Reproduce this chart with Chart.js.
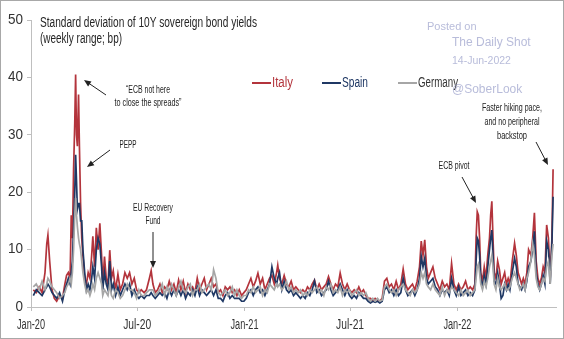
<!DOCTYPE html>
<html>
<head>
<meta charset="utf-8">
<script src="https://cdn.jsdelivr.net/npm/chart.js@4/dist/chart.umd.min.js"></script>
<style>
  html, body { margin: 0; padding: 0; background: #fff; }
</style>
</head>
<body>
<canvas id="canvas" width="564" height="339"></canvas>
<script>
// days counted from 1 Jan 2020
var days = [
  4, 9, 14, 19, 24, 27, 29, 32, 36, 40,
  44, 49, 54, 58, 61, 64, 67, 69, 71, 73,
  75, 76.5, 78, 79.5, 81.5, 83, 85, 87, 89, 92,
  95, 98, 101, 104, 106, 109, 112, 115, 118, 121,
  123, 126, 129, 132, 135, 138, 141, 145, 149, 153,
  157, 161, 165, 169, 173, 177, 181, 185, 189, 194,
  198, 203, 206, 209, 213, 217, 221, 225, 229, 233,
  237, 241, 245, 249, 253, 257, 261, 265, 269, 273,
  277, 281, 285, 289, 293, 297, 301, 305, 309, 313,
  317, 321, 325, 329, 333, 337, 341, 345, 349, 353,
  357, 361, 365, 369, 373, 377, 381, 385, 389, 393,
  397, 401, 405, 409, 413, 417, 421, 423, 426, 430,
  434, 438, 442, 446, 450, 454, 458, 462, 466, 470,
  474, 478, 482, 486, 490, 494, 498, 502, 506, 510,
  514, 518, 522, 526, 530, 534, 538, 542, 546, 550,
  554, 558, 562, 566, 570, 574, 578, 582, 586, 590,
  594, 598, 602, 606, 610, 614, 618, 622, 626, 630,
  634, 638, 642, 646, 650, 654, 658, 662, 666, 669,
  672, 675, 678, 681, 685, 689, 693, 697, 701, 705,
  709, 713, 717, 721, 725, 729, 733, 737, 741, 745,
  749, 753, 757, 761, 763, 765, 767, 769, 771, 774,
  777, 780, 783, 786, 788, 790, 792, 794, 797, 800,
  803, 806, 809, 812, 815, 818, 821, 825, 829, 832,
  835, 838, 841, 844, 847, 850, 853, 857, 860, 863,
  866, 869, 872, 875, 878, 881, 884, 887, 890, 893, 895
];

var italy = [
  3, 2.5, 3.5, 2.5, 6, 11, 12.5, 8, 3, 1.5,
  1, 2, 1.5, 4, 5.5, 6, 5, 16, 12, 24,
  32, 40.5, 30, 28, 37, 28, 18, 12, 9, 5,
  4, 6, 5, 9, 12.3, 7, 13.8, 10, 14.6, 9,
  4, 8.8, 5, 4, 9.9, 5, 6.3, 3, 5.7, 3,
  4, 6, 5, 6, 4, 5, 3, 2.5, 3, 2.5,
  3, 5, 6.3, 4, 2.5, 3, 4, 2.5, 3.5, 3,
  4.5, 3, 4, 2.5, 4.7, 3, 4.5, 2.5, 4, 3,
  3.5, 2.5, 5, 3, 4, 5, 3, 4, 5, 3.5,
  4, 2.5, 3, 2, 3.5, 3, 3.5, 2.5, 3, 2,
  3, 2, 2.5, 3, 4, 5, 3.5, 4.5, 5.9, 4,
  5, 3, 4, 5, 5.5, 4, 6, 7.3, 5, 4,
  5.5, 4, 3.5, 4.5, 3, 3.5, 3, 2.5, 3, 2.5,
  3.5, 3, 4, 4.7, 3, 4, 3, 3.5, 4, 5.3,
  4, 3, 4, 3.5, 5.9, 4, 3, 4, 3, 2.5,
  3, 2.5, 3.5, 2.5, 3, 2, 1.5, 1.5, 1, 1.5,
  1.2, 1, 1.5, 4.5, 5, 3.5, 4, 3, 4.5, 3,
  4, 6.6, 4, 3, 3.5, 4, 3, 4.5, 7, 11.5,
  9, 11.7, 7, 5, 6, 7, 5, 4, 3, 4.5,
  3.5, 4, 3, 7.6, 4, 3, 4, 3, 3.5, 4.5,
  3, 3.5, 3, 4, 12, 16.6, 16, 12, 6, 4.5,
  7, 5, 9, 12, 16, 18.4, 12, 6, 5, 8,
  6.5, 4, 5, 6, 4, 5, 4, 8, 11.1, 9,
  6, 5, 4, 5, 4, 6, 10, 9, 12, 16.4,
  8, 5, 4, 5, 7, 6, 14.3, 12, 5, 12, 24
];

var spain = [
  2, 3, 2.5, 2, 3, 3.5, 4, 3.5, 2.5, 2,
  1.5, 2.5, 1, 3, 4, 5, 4, 6, 8, 14,
  20, 26.5, 22, 17, 18, 18, 15, 15, 10, 6,
  3, 4, 3, 5, 7, 5, 10, 12, 11, 7,
  3, 6, 4, 3, 8, 3, 4, 2, 3.5, 2,
  3, 4, 3, 4, 2, 3, 2, 1.5, 2, 1.5,
  2, 2, 2.5, 2, 1.5, 2, 2.5, 2, 2.5, 1.5,
  3, 2, 3, 2, 3, 2, 3, 1.5, 2.5, 2,
  3, 2, 3.5, 2, 3, 2.5, 2, 2.5, 3, 2,
  3, 1.5, 1.5, 1, 2, 2.5, 1.5, 2, 1.5, 1.5,
  1.5, 1, 1, 1.5, 2.5, 3, 2, 3, 3.5, 2.5,
  3, 2, 3, 4, 7, 5, 4, 5, 6, 3,
  4.5, 3, 2.5, 3, 2, 2.5, 2, 1.5, 2, 1.5,
  2.5, 2, 3, 4.5, 2.5, 3, 2, 2.5, 3, 4.5,
  3, 2, 2.5, 3, 4, 3, 2, 3, 2, 1.5,
  2, 1.5, 2.5, 2, 1.5, 1.5, 1, 0.7, 1, 0.8,
  1, 0.7, 1, 3, 3.5, 2.5, 3, 2, 3, 2,
  2.5, 5, 3, 2, 2.5, 3, 2, 3, 5, 8.8,
  7, 8.5, 5, 4, 4.5, 5, 3.5, 3, 2, 3,
  2.5, 3, 2, 5, 3, 2, 3.5, 2, 2.5, 3,
  2, 2.5, 2, 3, 8, 12, 11.5, 9, 5, 3.5,
  5.5, 4, 7, 10, 12, 13.4, 9, 4.5, 4, 6,
  4, 1.5, 2, 4, 3, 4, 3, 6, 8.5, 7,
  4, 3.5, 3, 4, 3, 4.5, 7, 8, 10, 13.2,
  6, 4, 3, 4, 5.5, 4, 11.5, 10, 4, 11, 19.2
];

var germany = [
  3.5, 4, 3, 4.5, 3, 4, 5, 4.5, 3.5, 3,
  2.5, 1.5, 2, 2.5, 3.5, 4, 5, 4, 6, 10,
  16, 19, 16, 14, 12, 11, 10, 8, 6, 4,
  2.5, 3, 2, 3, 4, 3, 5, 6, 5, 4,
  2, 3, 2.5, 2, 4, 2, 1.5, 3, 2.5, 1.5,
  2, 3, 4, 3, 3, 2.5, 1.5, 3, 2, 2,
  2.5, 3, 3, 3, 2, 2.5, 3, 4, 2, 3.5,
  2.5, 4, 3, 2, 3.5, 4.5, 3, 2.5, 3.5, 4,
  2, 3, 3, 4, 2.5, 3, 3.5, 4, 3, 6.5,
  5, 2.5, 2, 2.5, 3, 2, 2.5, 3.5, 2, 3,
  2, 1.5, 2, 2, 3, 2.5, 3.5, 2.5, 3, 3.5,
  2, 3, 2.5, 4, 3.5, 3, 4, 3.5, 4, 3,
  3.5, 4.5, 3, 3.5, 2.5, 3, 2.5, 3, 2, 2.5,
  2, 3, 2.5, 3, 3.5, 2.5, 3, 2, 3.5, 3,
  4, 2.5, 3, 2.5, 3.5, 2, 3, 2.5, 3, 2,
  2.5, 3, 2, 2.5, 2, 2.5, 1.5, 1, 1.5, 1,
  1.5, 1, 1.2, 3.5, 4, 3, 2.5, 3, 2, 3,
  3.5, 4, 3, 2.5, 2, 3, 2.5, 3, 4, 6,
  5, 6, 4, 3.5, 3, 4, 3, 2.5, 2, 3.5,
  2, 3, 2.5, 3.5, 3, 2.5, 2, 3, 2, 2.5,
  3, 2, 2.5, 3, 5, 7, 7.5, 6, 4, 3,
  4.5, 3.5, 5, 7, 8, 9, 7, 4, 3, 5,
  3.5, 3, 3.5, 4, 3, 3, 3.5, 5, 6, 5,
  4, 3, 3.5, 4, 3, 5, 6, 8, 11, 9,
  5, 3.5, 3, 4, 5, 4.5, 7, 8, 4, 9, 11
];

var tickDays = [0, 182, 366, 547, 731];
var tickLabels = ['Jan-20', 'Jul-20', 'Jan-21', 'Jul-21', 'Jan-22'];

var sans = "'Liberation Sans', Arial, sans-serif";

function points(values) {
  return days.map(function (d, i) {
    return { x: d, y: values[i] };
  });
}

// condensed text: squeeze horizontally, either to a set width or by a fixed factor
function narrowText(ctx, text, x, y, size, width, align) {
  ctx.font = size + 'px ' + sans;
  var k = width ? width / ctx.measureText(text).width : 0.72;
  ctx.save();
  ctx.translate(x, y);
  ctx.scale(k, 1);
  ctx.textAlign = align || 'left';
  ctx.textBaseline = 'middle';
  ctx.fillText(text, 0, 0);
  ctx.restore();
}

function arrow(ctx, x1, y1, x2, y2) {
  var a = Math.atan2(y2 - y1, x2 - x1);
  ctx.beginPath();
  ctx.moveTo(x1, y1);
  ctx.lineTo(x2 - 4 * Math.cos(a), y2 - 4 * Math.sin(a));
  ctx.stroke();
  ctx.beginPath();
  ctx.moveTo(x2, y2);
  ctx.lineTo(x2 - 7 * Math.cos(a) + 3 * Math.sin(a), y2 - 7 * Math.sin(a) - 3 * Math.cos(a));
  ctx.lineTo(x2 - 7 * Math.cos(a) - 3 * Math.sin(a), y2 - 7 * Math.sin(a) + 3 * Math.cos(a));
  ctx.closePath();
  ctx.fill();
}

var extras = {
  id: 'extras',
  afterDraw: function (chart) {
    var ctx = chart.ctx;
    var xs = chart.scales.x;
    var ys = chart.scales.y;
    ctx.save();

    // frame
    ctx.strokeStyle = '#a8a8a8';
    ctx.lineWidth = 1;
    ctx.strokeRect(0.5, 0.5, 563, 338);

    // axis labels
    ctx.fillStyle = '#333';
    ys.ticks.forEach(function (t) {
      var label = String(t.value);
      narrowText(ctx, label, 23, ys.getPixelForValue(t.value), 14, label.length * 7.5, 'right');
    });
    xs.ticks.forEach(function (t, i) {
      narrowText(ctx, tickLabels[i], xs.getPixelForValue(t.value), 325, 14, 28 * tickLabels[i].length / 6, 'center');
    });

    // title
    ctx.fillStyle = '#262626';
    narrowText(ctx, 'Standard deviation of 10Y sovereign bond yields', 40, 23, 14, 217);
    narrowText(ctx, '(weekly range; bp)', 40, 39, 14, 82);

    // legend
    var legendX = [252, 322, 398];
    var legendW = [21, 26, 40];
    var textColors = ['#b3343c', '#1f3864', '#333333'];
    chart.data.datasets.forEach(function (ds, i) {
      ctx.strokeStyle = ds.borderColor;
      ctx.lineWidth = 2;
      ctx.beginPath();
      ctx.moveTo(legendX[i], 83);
      ctx.lineTo(legendX[i] + 19, 83);
      ctx.stroke();
      ctx.fillStyle = textColors[i];
      narrowText(ctx, ds.label, legendX[i] + 20, 83, 14, legendW[i]);
    });

    // annotations
    ctx.fillStyle = '#222';
    ctx.strokeStyle = '#222';
    ctx.lineWidth = 1;
    narrowText(ctx, '\u201cECB not here', 148, 90, 11, 44, 'center');
    narrowText(ctx, 'to close the spreads\u201d', 148, 103, 11, 67, 'center');
    arrow(ctx, 106, 95, 84, 80);

    narrowText(ctx, 'PEPP', 128, 145, 11, 17, 'center');
    arrow(ctx, 110, 150, 87, 167);

    narrowText(ctx, 'EU Recovery', 153, 208, 11, 40, 'center');
    narrowText(ctx, 'Fund', 153, 221, 11, 15, 'center');
    arrow(ctx, 153, 232, 153, 268);

    narrowText(ctx, 'ECB pivot', 454, 166, 11, 31, 'center');
    arrow(ctx, 462, 177, 476, 203);

    narrowText(ctx, 'Faster hiking pace,', 512, 108, 11, 60, 'center');
    narrowText(ctx, 'and no peripheral', 512, 122, 11, 55, 'center');
    narrowText(ctx, 'backstop', 512, 136, 11, 30, 'center');
    arrow(ctx, 536, 142, 548, 165);

    // watermark
    ctx.textAlign = 'left';
    ctx.textBaseline = 'middle';
    ctx.fillStyle = 'rgba(160, 166, 206, 0.75)';
    ctx.font = '11px ' + sans;
    ctx.fillText('Posted on', 427, 27);
    ctx.font = '12px ' + sans;
    ctx.fillText('The Daily Shot', 452, 43);
    ctx.font = '10.5px ' + sans;
    ctx.fillText('14-Jun-2022', 452, 61);
    ctx.font = '12px ' + sans;
    ctx.fillText('@SoberLook', 452, 90);

    ctx.restore();
  }
};

var ctx = document.getElementById('canvas').getContext('2d');
var myChart = new Chart(ctx, {
  type: 'line',
  data: {
    datasets: [
      {
        label: 'Italy',
        data: points(italy),
        borderColor: '#b3343c',
        borderWidth: 1.7,
        pointRadius: 0,
        order: 3,
      },
      {
        label: 'Spain',
        data: points(spain),
        borderColor: '#1f3864',
        borderWidth: 1.7,
        pointRadius: 0,
        order: 2,
      },
      {
        label: 'Germany',
        data: points(germany),
        borderColor: '#a6a6a6',
        borderWidth: 1.7,
        pointRadius: 0,
        order: 1,
      },
    ],
  },
  options: {
    responsive: false,
    animation: false,
    layout: { padding: { top: 20, right: 8, left: 0, bottom: 0 } },
    plugins: {
      legend: { display: false },
      tooltip: { enabled: false },
    },
    scales: {
      x: {
        type: 'linear',
        min: 0,
        max: 900,
        afterBuildTicks: function (scale) {
          scale.ticks = tickDays.map(function (v) { return { value: v }; });
        },
        afterFit: function (scale) { scale.height = 32; },
        grid: { drawOnChartArea: false, tickLength: 4, color: '#bfbfbf' },
        border: { color: '#bfbfbf' },
        ticks: { display: false },
      },
      y: {
        min: 0,
        max: 50,
        afterFit: function (scale) { scale.width = 31; },
        grid: { drawOnChartArea: false, tickLength: 4, color: '#bfbfbf' },
        border: { color: '#bfbfbf' },
        ticks: { display: false, stepSize: 10 },
      },
    },
  },
  plugins: [extras],
});
</script>
</body>
</html>
